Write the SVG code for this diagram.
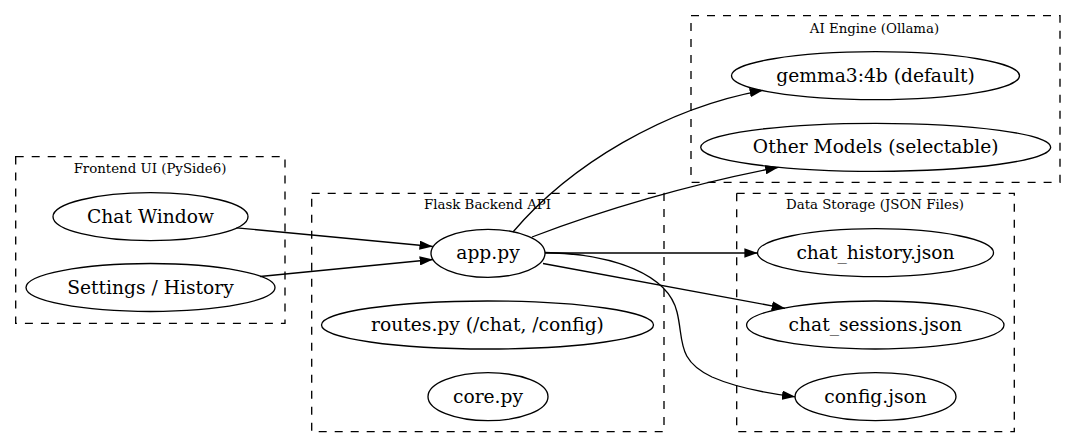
<svg xmlns="http://www.w3.org/2000/svg" width="1077" height="448" viewBox="0 0 1077 448">
<style>
.cluster{fill:none;stroke:#000;stroke-width:1.33;stroke-dasharray:8,8}
.clabel{font-family:"DejaVu Serif",serif;font-size:13.33px;fill:#000;text-anchor:middle}
.node ellipse{fill:none;stroke:#000;stroke-width:1.33}
.node text{font-family:"DejaVu Serif",serif;font-size:18.67px;fill:#000;text-anchor:middle}
.edge{fill:none;stroke:#000;stroke-width:1.33;marker-end:url(#arrow)}
</style>
<defs>
<marker id="arrow" viewBox="0 0 13.33 9.33" refX="13.33" refY="4.67" markerWidth="13.33" markerHeight="9.33" markerUnits="userSpaceOnUse" orient="auto">
<polygon points="0,0 13.33,4.67 0,9.33" fill="#000"/>
</marker>
</defs>
<rect width="1077" height="448" fill="#fff"/>
<g id="cluster_frontend">
<rect class="cluster" x="15.7" y="156.7" width="269.3" height="166.6"/>
<text class="clabel" x="150" y="172.7">Frontend UI (PySide6)</text>
</g>
<g id="cluster_backend">
<rect class="cluster" x="311.7" y="193.3" width="352.3" height="238.4"/>
<text class="clabel" x="487.5" y="209.3">Flask Backend API</text>
</g>
<g id="cluster_ai">
<rect class="cluster" x="691" y="15.7" width="369" height="166.6"/>
<text class="clabel" x="874.5" y="32.7">AI Engine (Ollama)</text>
</g>
<g id="cluster_storage">
<rect class="cluster" x="736.7" y="193.3" width="277.6" height="238.4"/>
<text class="clabel" x="875" y="209.3">Data Storage (JSON Files)</text>
</g>
<g id="edges">
<path class="edge" d="M236.5,227.8 L432.8,246.5"/>
<path class="edge" d="M260,276.5 L433,259.5"/>
<path class="edge" d="M513,232 C570,165 665,108 763,90.3"/>
<path class="edge" d="M532,237 C600,211 690,184 778.5,167.3"/>
<path class="edge" d="M545,253 L757.7,253"/>
<path class="edge" d="M543,263.5 L785,308.3"/>
<path class="edge" d="M545,252.5 C615,254 668,275 677,312 C684,340 676,360 712,377 C737,388 765,393 795.3,396.8"/>
</g>
<g id="node_chat_window" class="node">
<ellipse cx="150.5" cy="216.7" rx="97.5" ry="24"/>
<text x="150.5" y="222.7">Chat Window</text>
</g>
<g id="node_settings" class="node">
<ellipse cx="150.5" cy="287.5" rx="124.5" ry="24"/>
<text x="150.5" y="293.5">Settings / History</text>
</g>
<g id="node_app" class="node">
<ellipse cx="488" cy="253.3" rx="57" ry="24"/>
<text x="488" y="259.3">app.py</text>
</g>
<g id="node_routes" class="node">
<ellipse cx="487.5" cy="325" rx="166" ry="24"/>
<text x="487.5" y="331">routes.py (/chat, /config)</text>
</g>
<g id="node_core" class="node">
<ellipse cx="488" cy="396.7" rx="60" ry="24"/>
<text x="488" y="402.7">core.py</text>
</g>
<g id="node_gemma" class="node">
<ellipse cx="875.5" cy="75.7" rx="144" ry="24"/>
<text x="875.5" y="81.7">gemma3:4b (default)</text>
</g>
<g id="node_other" class="node">
<ellipse cx="875.7" cy="147.3" rx="175" ry="24"/>
<text x="875.7" y="153.3">Other Models (selectable)</text>
</g>
<g id="node_history" class="node">
<ellipse cx="875.5" cy="252.7" rx="118" ry="24"/>
<text x="875.5" y="258.7">chat_history.json</text>
</g>
<g id="node_sessions" class="node">
<ellipse cx="875.3" cy="325" rx="128.7" ry="24"/>
<text x="875.3" y="331">chat_sessions.json</text>
</g>
<g id="node_config" class="node">
<ellipse cx="875.5" cy="396.7" rx="80.5" ry="24"/>
<text x="875.5" y="402.7">config.json</text>
</g>
</svg>
